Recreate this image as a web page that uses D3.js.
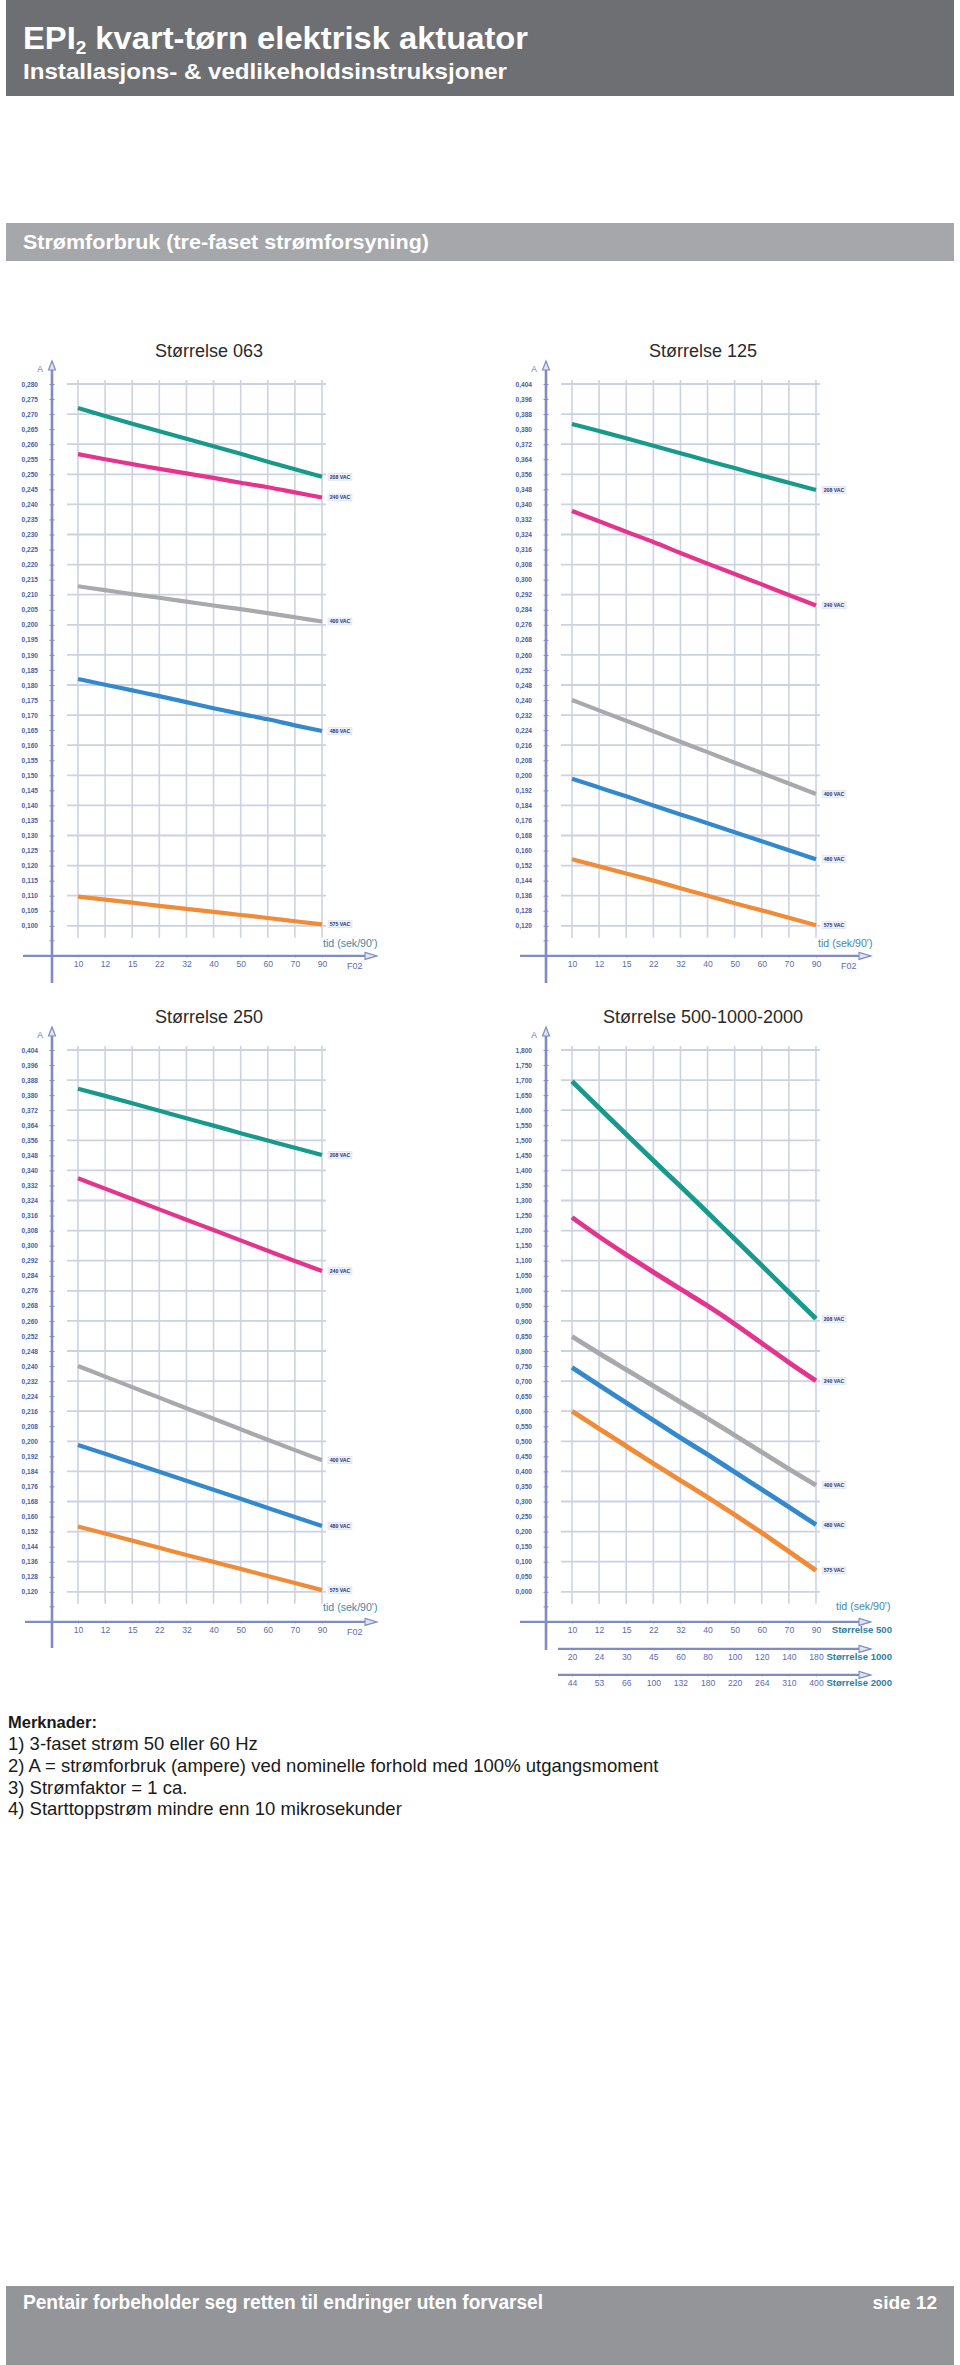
<!DOCTYPE html>
<html><head><meta charset="utf-8">
<script src="https://cdn.jsdelivr.net/npm/d3@7"></script>
<style>body{margin:0;background:#fff}svg{display:block}</style>
</head><body>
<svg id="page" width="960" height="2365"></svg>
<script>
// ---------------- DATA ----------------
const timeCats = ["10","12","15","22","32","40","50","60","70","90"];
const timeCats1000 = ["20","24","30","45","60","80","100","120","140","180"];
const timeCats2000 = ["44","53","66","100","132","180","220","264","310","400"];
const voltageLabels = ["208 VAC","240 VAC","400 VAC","480 VAC","575 VAC"];
const seriesColors = ["#17998b","#e3358e","#a9a9ad","#3389cc","#f08b37"];

const yTicks063 = [0.280,0.275,0.270,0.265,0.260,0.255,0.250,0.245,0.240,0.235,0.230,0.225,0.220,0.215,0.210,0.205,0.200,0.195,0.190,0.185,0.180,0.175,0.170,0.165,0.160,0.155,0.150,0.145,0.140,0.135,0.130,0.125,0.120,0.115,0.110,0.105,0.100];
const yTicks125 = [0.404,0.396,0.388,0.380,0.372,0.364,0.356,0.348,0.340,0.332,0.324,0.316,0.308,0.300,0.292,0.284,0.276,0.268,0.260,0.252,0.248,0.240,0.232,0.224,0.216,0.208,0.200,0.192,0.184,0.176,0.168,0.160,0.152,0.144,0.136,0.128,0.120];
const yTicks250 = [0.404,0.396,0.388,0.380,0.372,0.364,0.356,0.348,0.340,0.332,0.324,0.316,0.308,0.300,0.292,0.284,0.276,0.268,0.260,0.252,0.248,0.240,0.232,0.224,0.216,0.208,0.200,0.192,0.184,0.176,0.168,0.160,0.152,0.144,0.136,0.128,0.120];
const yTicks500 = [1.800,1.750,1.700,1.650,1.600,1.550,1.500,1.450,1.400,1.350,1.300,1.250,1.200,1.150,1.100,1.050,1.000,0.950,0.900,0.850,0.800,0.750,0.700,0.650,0.600,0.550,0.500,0.450,0.400,0.350,0.300,0.250,0.200,0.150,0.100,0.050,0.000];

// Størrelse 063
const v063_208 = [0.2720,0.2694,0.2668,0.2643,0.2618,0.2593,0.2568,0.2542,0.2517,0.2492];
const v063_240 = [0.2567,0.2550,0.2534,0.2518,0.2503,0.2488,0.2472,0.2457,0.2440,0.2423];
const v063_400 = [0.2128,0.2115,0.2102,0.2090,0.2077,0.2064,0.2052,0.2039,0.2025,0.2011];
const v063_480 = [0.1820,0.1801,0.1782,0.1763,0.1743,0.1723,0.1704,0.1686,0.1666,0.1647];
const v063_575 = [0.1097,0.1087,0.1077,0.1066,0.1056,0.1046,0.1036,0.1026,0.1015,0.1005];
// Størrelse 125
const v125_208 = [0.3827,0.3790,0.3752,0.3712,0.3672,0.3632,0.3593,0.3553,0.3515,0.3477];
const v125_240 = [0.3365,0.3310,0.3255,0.3200,0.3142,0.3085,0.3030,0.2975,0.2918,0.2863];
const v125_400 = [0.2400,0.2345,0.2290,0.2234,0.2178,0.2123,0.2067,0.2012,0.1956,0.1901];
const v125_480 = [0.1982,0.1935,0.1888,0.1840,0.1792,0.1745,0.1697,0.1650,0.1602,0.1554];
const v125_575 = [0.1554,0.1516,0.1478,0.1440,0.1400,0.1360,0.1320,0.1282,0.1243,0.1203];
// Størrelse 250
const v250_208 = [0.3834,0.3796,0.3757,0.3717,0.3677,0.3638,0.3598,0.3559,0.3520,0.3482];
const v250_240 = [0.3358,0.3303,0.3248,0.3193,0.3138,0.3083,0.3028,0.2973,0.2918,0.2865];
const v250_400 = [0.2400,0.2344,0.2288,0.2232,0.2176,0.2120,0.2064,0.2008,0.1953,0.1899];
const v250_480 = [0.1981,0.1934,0.1886,0.1838,0.1790,0.1742,0.1694,0.1646,0.1598,0.1550];
const v250_575 = [0.1547,0.1510,0.1472,0.1434,0.1396,0.1359,0.1322,0.1284,0.1247,0.1209];
// Størrelse 500-1000-2000
const v500_208 = [1.696,1.608,1.520,1.433,1.347,1.260,1.172,1.084,0.995,0.907];
const v500_240 = [1.244,1.180,1.120,1.062,1.006,0.950,0.890,0.826,0.762,0.701];
const v500_400 = [0.848,0.792,0.738,0.684,0.630,0.576,0.520,0.464,0.408,0.354];
const v500_480 = [0.745,0.686,0.628,0.570,0.512,0.456,0.398,0.340,0.282,0.223];
const v500_575 = [0.600,0.542,0.484,0.426,0.370,0.314,0.256,0.196,0.134,0.071];

const notes = [
  "1)  3-faset strøm 50 eller 60 Hz",
  "2)  A = strømforbruk (ampere) ved nominelle forhold med 100% utgangsmoment",
  "3)  Strømfaktor = 1 ca.",
  "4)  Starttoppstrøm mindre enn 10 mikrosekunder"
];

// ---------------- DRAW ----------------
const svg = d3.select("#page");
svg.append("rect").attr("width",960).attr("height",2365).attr("fill","#fff");
const COND = "'Liberation Sans Narrow','Arial Narrow','Liberation Sans',Arial,sans-serif";
const SANS = "'Liberation Sans',Arial,Helvetica,sans-serif";

// header
svg.append("rect").attr("x",6).attr("y",0).attr("width",948).attr("height",96).attr("fill","#6e6f73");
const t1 = svg.append("text").attr("x",23).attr("y",49).attr("fill","#fff")
  .attr("font-family",COND).attr("font-weight","bold").attr("font-size",31)
  .attr("textLength",505).attr("lengthAdjust","spacingAndGlyphs");
t1.append("tspan").text("EPI");
t1.append("tspan").attr("font-size",18).attr("dy",5).text("2");
t1.append("tspan").attr("dy",-5).text(" kvart-tørn elektrisk aktuator");
svg.append("text").attr("x",23).attr("y",79).attr("fill","#fff")
  .attr("font-family",COND).attr("font-weight","bold").attr("font-size",21.5)
  .attr("textLength",484).attr("lengthAdjust","spacingAndGlyphs")
  .text("Installasjons- & vedlikeholdsinstruksjoner");

svg.append("rect").attr("x",6).attr("y",223).attr("width",948).attr("height",38).attr("fill","#a6a7ab");
svg.append("text").attr("x",23).attr("y",249).attr("fill","#fff")
  .attr("font-family",COND).attr("font-weight","bold").attr("font-size",21)
  .attr("textLength",406).attr("lengthAdjust","spacingAndGlyphs")
  .text("Strømforbruk (tre-faset strømforsyning)");

const fmt = d => d3.format(".3f")(d).replace(".", ",");
const STEP = 15.05;
const AXIS_C = "#7f8bc2", GRID_C = "#cdd2e3", LABEL_C = "#4a5ea8";

function drawChart(o) {
  const g = svg.append("g");
  const y = d3.scaleLinear().domain(o.ticks).range(o.ticks.map((d,i)=>o.yTop + i*STEP));
  const x = d3.scalePoint().domain(timeCats).range([o.ax + 26, o.ax + 270]);
  const yLast = y(o.ticks[o.ticks.length-1]);
  const xAxisY = yLast + 2*STEP;

  g.append("text").attr("x", o.ax + 157).attr("y", o.yTop - 27).attr("text-anchor","middle")
    .attr("font-family",SANS).attr("font-size",18).attr("fill","#2a2a2a").text(o.title);

  // horizontal grid
  g.selectAll(".hg").data(o.ticks.filter((d,i)=>i%2===0)).join("line")
    .attr("x1", o.ax + 15).attr("x2", o.ax + 274)
    .attr("y1", d=>y(d)).attr("y2", d=>y(d))
    .attr("stroke", GRID_C).attr("stroke-width", 1.8);
  // vertical grid
  g.selectAll(".vg").data(timeCats).join("line")
    .attr("x1", d=>x(d)).attr("x2", d=>x(d))
    .attr("y1", o.yTop - 4).attr("y2", yLast + 12)
    .attr("stroke", GRID_C).attr("stroke-width", 1.6);

  // y axis with ticks
  const ya = d3.axisLeft(y).tickValues(o.ticks).tickFormat(fmt).tickSize(3).tickPadding(11);
  const yg = g.append("g").attr("transform",`translate(${o.ax},0)`).call(ya);
  yg.select(".domain").remove();
  yg.selectAll(".tick line").attr("x1",-2.5).attr("x2",2.5).attr("stroke",AXIS_C).attr("stroke-width",1);
  yg.selectAll(".tick text").attr("font-family",SANS).attr("font-size",6.6).attr("font-weight","bold").attr("fill",LABEL_C);
  g.append("line").attr("x1",o.ax-2.5).attr("x2",o.ax+2.5).attr("y1",yLast+STEP).attr("y2",yLast+STEP)
    .attr("stroke",AXIS_C);
  g.append("line").attr("x1",o.ax).attr("x2",o.ax).attr("y1",o.yTop-18).attr("y2",o.yBottom)
    .attr("stroke",AXIS_C).attr("stroke-width",2.6);
  g.append("path").attr("d",`M${o.ax-3.5},${o.yTop-14} L${o.ax},${o.yTop-23} L${o.ax+3.5},${o.yTop-14} Z`)
    .attr("fill","#dfe3f0").attr("stroke",AXIS_C).attr("stroke-width",1.2);
  g.append("text").attr("x",o.ax-9).attr("y",o.yTop-12).attr("text-anchor","end")
    .attr("font-family",SANS).attr("font-size",8.5).attr("fill","#6a78b8").text("A");

  // x axes
  o.xAxes.forEach((xa, k) => {
    const ay = xAxisY + xa.dy;
    g.append("line").attr("x1", o.ax + xa.start).attr("x2", o.ax + 322).attr("y1", ay).attr("y2", ay)
      .attr("stroke", AXIS_C).attr("stroke-width", 2.2);
    g.append("path").attr("d",`M${o.ax+313},${ay-3.5} L${o.ax+325},${ay} L${o.ax+313},${ay+3.5} Z`)
      .attr("fill","#dfe3f0").attr("stroke",AXIS_C).attr("stroke-width",1.1);
    const xs = d3.scalePoint().domain(xa.cats).range([o.ax + 26, o.ax + 270]);
    const axis = d3.axisBottom(xs).tickSize(2.5).tickPadding(3.5);
    const xg = g.append("g").attr("transform",`translate(0,${ay-1})`).call(axis);
    xg.select(".domain").remove();
    xg.selectAll(".tick line").attr("stroke",AXIS_C);
    xg.selectAll(".tick text").attr("font-family",SANS).attr("font-size",8.6).attr("fill","#5b6bb0");
    if (xa.label) {
      g.append("text").attr("x", o.ax + 346).attr("y", ay + 11).attr("text-anchor","end")
        .attr("font-family",SANS).attr("font-weight","bold").attr("font-size",9.6).attr("fill","#2f7e9f").text(xa.label);
    }
  });
  if (o.f02) {
    g.append("text").attr("x", o.ax + 295).attr("y", xAxisY + 13)
      .attr("font-family",SANS).attr("font-size",9).attr("fill","#5b6bb0").text("F02");
  }
  g.append("text").attr("x", o.ax + o.tidX).attr("y", xAxisY - o.tidUp)
    .attr("font-family",SANS).attr("font-size",10.6).attr("fill","#3f88aa").text("tid (sek/90')");

  // series
  const line = d3.line().x((d,i)=>x(timeCats[i])).y(d=>y(d)).curve(d3.curveMonotoneX);
  o.series.forEach((vals, k) => {
    g.append("path").datum(vals).attr("d", line).attr("fill","none")
      .attr("stroke", seriesColors[k]).attr("stroke-width", o.lw).attr("stroke-linecap","butt");
    const lx = x(timeCats[timeCats.length-1]) + 6, ly = y(vals[vals.length-1]);
    g.append("rect").attr("x",lx).attr("y",ly-3.5).attr("width",24).attr("height",7)
      .attr("fill","#eef0f6").attr("stroke","#d5d9e8").attr("stroke-width",0.5);
    g.append("text").attr("x",lx+12).attr("y",ly+2).attr("text-anchor","middle")
      .attr("font-family",SANS).attr("font-weight","bold").attr("font-size",5.2).attr("fill","#26357a")
      .text(voltageLabels[k]);
  });
}

drawChart({title:"Størrelse 063", ax:52, yTop:384, yBottom:983, ticks:yTicks063, lw:4.2,
  series:[v063_208,v063_240,v063_400,v063_480,v063_575],
  xAxes:[{dy:0,start:-29,cats:timeCats}], f02:true, tidX:271, tidUp:9});
drawChart({title:"Størrelse 125", ax:546, yTop:384, yBottom:983, ticks:yTicks125, lw:4.2,
  series:[v125_208,v125_240,v125_400,v125_480,v125_575],
  xAxes:[{dy:0,start:-26,cats:timeCats}], f02:true, tidX:272, tidUp:9});
drawChart({title:"Størrelse 250", ax:52, yTop:1050, yBottom:1648, ticks:yTicks250, lw:4.2,
  series:[v250_208,v250_240,v250_400,v250_480,v250_575],
  xAxes:[{dy:0,start:-27,cats:timeCats}], f02:true, tidX:271, tidUp:11});
drawChart({title:"Størrelse 500-1000-2000", ax:546, yTop:1050, yBottom:1650, ticks:yTicks500, lw:4.8,
  series:[v500_208,v500_240,v500_400,v500_480,v500_575],
  xAxes:[{dy:0,start:-26,cats:timeCats,label:"Størrelse 500"},
         {dy:27,start:12,cats:timeCats1000,label:"Størrelse 1000"},
         {dy:53,start:12,cats:timeCats2000,label:"Størrelse 2000"}],
  f02:false, tidX:290, tidUp:12});

// notes
svg.append("text").attr("x",8).attr("y",1728).attr("font-family",COND).attr("font-weight","bold")
  .attr("font-size",16.5).attr("fill","#1a1a1a").text("Merknader:");
svg.selectAll(".note").data(notes).join("text")
  .attr("x",8).attr("y",(d,i)=>1750 + i*21.8)
  .attr("font-family",COND).attr("font-size",18.5).attr("fill","#1a1a1a").text(d=>d);

// footer
svg.append("rect").attr("x",6).attr("y",2286).attr("width",948).attr("height",79).attr("fill","#949599");
svg.append("text").attr("x",23).attr("y",2309).attr("fill","#fff")
  .attr("font-family",COND).attr("font-weight","bold").attr("font-size",20)
  .attr("textLength",520).attr("lengthAdjust","spacingAndGlyphs")
  .text("Pentair forbeholder seg retten til endringer uten forvarsel");
svg.append("text").attr("x",937).attr("y",2309).attr("text-anchor","end").attr("fill","#fff")
  .attr("font-family",COND).attr("font-weight","bold").attr("font-size",19)
  .text("side 12");
</script>
</body></html>
